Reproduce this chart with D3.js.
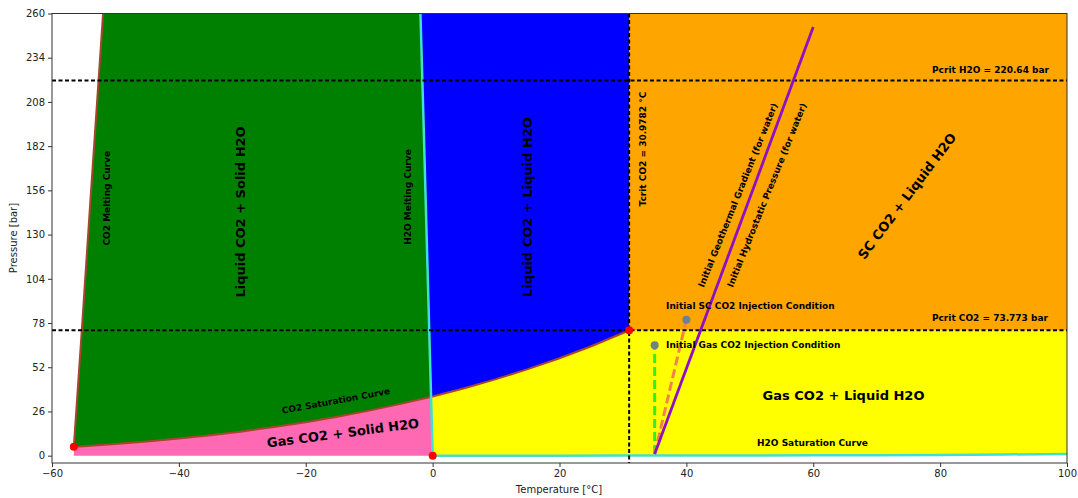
<!DOCTYPE html>
<html><head><meta charset="utf-8">
<script src="https://cdn.jsdelivr.net/npm/d3@7"></script>
<style>
body{margin:0;background:#fff;}
text{font-family:"DejaVu Sans",sans-serif;}
</style></head>
<body>
<svg id="chart" width="1078" height="498"></svg>
<script>
// ---- data ----
const xTicks = [-60, -40, -20, 0, 20, 40, 60, 80, 100];
const yTicks = [0, 26, 52, 78, 104, 130, 156, 182, 208, 234, 260];

const co2SatT = [-56.56, -55, -50, -45, -40, -35, -30, -25, -20, -15, -10, -5, 0, 5, 10, 15, 20, 25, 30, 30.9782];
const co2SatP = [5.187, 5.54, 6.82, 8.32, 10.05, 12.02, 14.28, 16.83, 19.70, 22.91, 26.49, 30.46, 34.85, 39.69, 45.02, 50.87, 57.29, 64.34, 72.14, 73.773];

const co2MeltT = [-56.56, -55.3, -53.95, -51.95];
const co2MeltP = [5.187, 73.8, 150, 260];

const h2oMeltT = [0.01, -0.73, -1.46, -1.92];
const h2oMeltP = [0.006, 100, 200, 260];

const h2oSatT = [0.01, 10, 20, 30, 40, 50, 60, 70, 80, 90, 100];
const h2oSatP = [0.0061, 0.0123, 0.0234, 0.0425, 0.0738, 0.1235, 0.1995, 0.312, 0.4741, 0.7018, 1.0142];

const tCritCO2 = 30.9782, pCritCO2 = 73.773, pCritH2O = 220.64;
const co2Triple = [-56.56, 5.187];
const h2oTriple = [0.01, 0.006];

const geoT = [35, 60];
const geoP = [1.0, 252];
const scInjT = [35, 40];
const scInjP = [1.0, 80];
const gasInjT = [35, 35];
const gasInjP = [1.0, 65];

// ---- layout ----
const svg = d3.select("#chart");
const x = d3.scaleLinear().domain([-60, 100]).range([52, 1067]);
const y = d3.scaleLinear().domain([-4.3, 260]).range([463, 13.5]);
const P = (T, Pv) => [x(T), y(Pv)];

function interp(xs, ys, v) {
  if (v <= xs[0]) return ys[0];
  for (let i = 1; i < xs.length; i++) {
    if (v <= xs[i]) { const t = (v - xs[i-1]) / (xs[i] - xs[i-1]); return ys[i-1] + t * (ys[i] - ys[i-1]); }
  }
  return ys[ys.length - 1];
}
// intersection of h2o melting curve with co2 saturation curve
let lo = 0, hi = 73;
for (let k = 0; k < 60; k++) {
  const m = (lo + hi) / 2;
  const f = interp(h2oMeltP, h2oMeltT, m) - interp(co2SatP, co2SatT, m);
  if (f > 0) lo = m; else hi = m;
}
const Pi = (lo + hi) / 2, Ti = interp(h2oMeltP, h2oMeltT, Pi);
const Ttop = interp(h2oMeltP, h2oMeltT, 260);

const satPts = co2SatT.map((t, i) => [t, co2SatP[i]]);
const satBelow = satPts.filter(p => p[0] < Ti);
const satAbove = satPts.filter(p => p[0] > Ti);
const meltH2O = h2oMeltT.map((t, i) => [t, h2oMeltP[i]]);
const meltBelow = meltH2O.filter(p => p[1] < Pi);
const meltAbove = meltH2O.filter(p => p[1] > Pi);
const meltCO2 = co2MeltT.map((t, i) => [t, co2MeltP[i]]);
const satH2O = h2oSatT.map((t, i) => [t, h2oSatP[i]]);

const clipId = "clipArea";
svg.append("clipPath").attr("id", clipId).append("rect")
  .attr("x", 52).attr("y", 13.5).attr("width", 1015).attr("height", 449.5);
const g = svg.append("g").attr("clip-path", `url(#${clipId})`);
const poly = (pts, fill) => g.append("polygon").attr("points", pts.map(p => P(p[0], p[1]).join(",")).join(" ")).attr("fill", fill);

// pink
poly([[co2Triple[0], 0], co2Triple, ...satBelow, [Ti, Pi], ...meltBelow.slice().reverse(), [h2oTriple[0], 0]], "#ff69b4");
// yellow
poly([...satH2O, [100, pCritCO2], [tCritCO2, pCritCO2], ...satAbove.slice().reverse(), [Ti, Pi], ...meltBelow.slice().reverse()], "#ffff00");
// orange
poly([[tCritCO2, pCritCO2], [tCritCO2, 260], [100, 260], [100, pCritCO2]], "#ffa500");
// blue
poly([[Ttop, 260], [tCritCO2, 260], [tCritCO2, pCritCO2], ...satAbove.slice().reverse(), [Ti, Pi], ...meltAbove], "#0000ff");
// green
poly([...meltCO2, [Ttop, 260], ...meltAbove.slice().reverse(), [Ti, Pi], ...satBelow.slice().reverse()], "#008000");

const line = d3.line().x(d => x(d[0])).y(d => y(d[1]));
// curves
g.append("path").attr("d", line(meltCO2)).attr("fill", "none").attr("stroke", "#a8452d").attr("stroke-width", 2);
g.append("path").attr("d", line(satPts)).attr("fill", "none").attr("stroke", "#a8452d").attr("stroke-width", 2);
g.append("path").attr("d", line(meltH2O)).attr("fill", "none").attr("stroke", "#40e0d0").attr("stroke-width", 2.5);
g.append("path").attr("d", line(satH2O)).attr("fill", "none").attr("stroke", "#40e0d0").attr("stroke-width", 2.5);

// critical dashed lines
const dash = "4,2.5";
g.append("line").attr("x1", x(-60)).attr("x2", x(100)).attr("y1", y(pCritH2O)).attr("y2", y(pCritH2O))
  .attr("stroke", "#000").attr("stroke-width", 2).attr("stroke-dasharray", dash);
g.append("line").attr("x1", x(-60)).attr("x2", x(100)).attr("y1", y(pCritCO2)).attr("y2", y(pCritCO2))
  .attr("stroke", "#000").attr("stroke-width", 2).attr("stroke-dasharray", dash);
svg.append("line").attr("x1", x(tCritCO2)).attr("x2", x(tCritCO2)).attr("y1", 13.5).attr("y2", 463)
  .attr("stroke", "#000").attr("stroke-width", 2).attr("stroke-dasharray", dash);

// gradient / injection paths
const toPts = (ts, ps) => ts.map((t, i) => [t, ps[i]]);
g.append("path").attr("d", line(toPts(gasInjT, gasInjP))).attr("fill", "none").attr("stroke", "#33ee22").attr("stroke-width", 3).attr("stroke-dasharray", "9,4");
g.append("path").attr("d", line(toPts(scInjT, scInjP))).attr("fill", "none").attr("stroke", "#f4814a").attr("stroke-width", 3).attr("stroke-dasharray", "9,4");
g.append("path").attr("d", line(toPts(geoT, geoP))).attr("fill", "none").attr("stroke", "#8e10c4").attr("stroke-width", 2.8);

// points
[[scInjT[1], scInjP[1]], [gasInjT[1], gasInjP[1]]].forEach(p =>
  svg.append("circle").attr("cx", x(p[0])).attr("cy", y(p[1])).attr("r", 4).attr("fill", "#708090"));
[co2Triple, [tCritCO2, pCritCO2], h2oTriple].forEach(p =>
  svg.append("circle").attr("cx", x(p[0])).attr("cy", y(p[1])).attr("r", 4).attr("fill", "#ff0000"));

// axes frame
svg.append("rect").attr("x", 52).attr("y", 13.5).attr("width", 1015).attr("height", 449.5)
  .attr("fill", "none").attr("stroke", "#333").attr("stroke-width", 1);

const xAxis = svg.append("g").attr("transform", "translate(0,463)")
  .call(d3.axisBottom(x).tickValues(xTicks).tickSize(4).tickPadding(3).tickFormat(d => d < 0 ? "\u2212" + Math.abs(d) : d));
const yAxis = svg.append("g").attr("transform", "translate(52,0)")
  .call(d3.axisLeft(y).tickValues(yTicks).tickSize(4).tickPadding(3));
[xAxis, yAxis].forEach(a => {
  a.select(".domain").remove();
  a.selectAll("text").attr("font-size", 10).attr("fill", "#222").style("font-family", "DejaVu Sans");
  a.selectAll("line").attr("stroke", "#333");
});

svg.append("text").attr("x", 559).attr("y", 493).attr("text-anchor", "middle").attr("font-size", 10).attr("fill", "#222").text("Temperature [°C]");
svg.append("text").attr("transform", "translate(17,238) rotate(-90)").attr("text-anchor", "middle").attr("font-size", 10).attr("fill", "#222").text("Pressure [bar]");

// annotations
function label(txt, T, Pv, size, rot, anchor) {
  svg.append("text")
    .attr("transform", `translate(${x(T)},${y(Pv)}) rotate(${rot})`)
    .attr("text-anchor", anchor || "middle").attr("dominant-baseline", "central")
    .attr("font-size", size).attr("font-weight", "bold").attr("fill", "#000").text(txt);
}
const s = 9;
label("CO2 Melting Curve", -51.38, 151.4, s, -90);
label("Liquid CO2 + Solid H2O", -30.36, 143.3, 13, -90);
label("H2O Melting Curve", -3.88, 152.1, s, -90);
label("Liquid CO2 + Liquid H2O", 14.88, 146.2, 13, -90);
label("Tcrit CO2 = 30.9782 °C", 33.1, 180.3, s, -90);
label("Initial Geothermal Gradient (for water)", 48.14, 153.2, s, -68);
label("Initial Hydrostatic Pressure (for water)", 52.7, 153.2, s, -68);
label("SC CO2 + Liquid H2O", 74.78, 152.6, 13, -53);
label("Pcrit H2O = 220.64 bar", 97.16, 226.8, s, 0, "end");
label("Pcrit CO2 = 73.773 bar", 97.0, 81.0, s, 0, "end");
label("Initial SC CO2 Injection Condition", 36.8, 88.0, s, 0, "start");
label("Initial Gas CO2 Injection Condition", 36.8, 65.1, s, 0, "start");
label("Gas CO2 + Liquid H2O", 64.77, 35.1, 13, 0);
label("H2O Saturation Curve", 59.88, 7.5, s, 0);
label("CO2 Saturation Curve", -15.23, 32.2, s, -10.4);
label("Gas CO2 + Solid H2O", -14.13, 13.3, 13, -7.5);
</script>
</body></html>
